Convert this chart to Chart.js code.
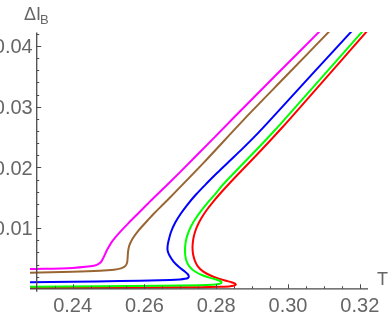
<!DOCTYPE html>
<html>
<head>
<meta charset="utf-8">
<script src="https://cdn.jsdelivr.net/npm/chart.js@4.4.1/dist/chart.umd.min.js"></script>
<style>
  html, body { margin: 0; padding: 0; background: #fff; }
  #caja { width: 388px; height: 319px; }
</style>
</head>
<body>
<div id="caja"><canvas id="grafico"></canvas></div>
<script>
// ticks
const xTicks = [0.24, 0.26, 0.28, 0.30, 0.32];
const yTicks = [0.01, 0.02, 0.03, 0.04];

// curvas: T (eje x) y ΔI_B (eje y)
const tMagenta = [0.22813, 0.24000, 0.24624, 0.24777, 0.24861, 0.24958, 0.25097, 0.25306, 0.25557, 0.25850, 0.26184, 0.26630, 0.27410, 0.28479, 0.29666, 0.30880];
const iMagenta = [0.003245, 0.003443, 0.003822, 0.004316, 0.00514, 0.006375, 0.007776, 0.009258, 0.010823, 0.012553, 0.01453, 0.017084, 0.021696, 0.028121, 0.035205, 0.0424];

const tBrown = [0.22813, 0.24000, 0.24763, 0.25153, 0.25348, 0.25460, 0.25515, 0.25532, 0.25543, 0.25571, 0.25627, 0.25710, 0.25822, 0.25947, 0.26086, 0.26267, 0.26532, 0.26852, 0.27660, 0.28802, 0.29964, 0.31150];
const iBrown = [0.002644, 0.002792, 0.002957, 0.003138, 0.003369, 0.003698, 0.004242, 0.005066, 0.006054, 0.00696, 0.007784, 0.008608, 0.009514, 0.010337, 0.011244, 0.012397, 0.013962, 0.015889, 0.020831, 0.02808, 0.035164, 0.0424];

const tBlue = [0.22813, 0.24000, 0.25320, 0.26435, 0.26992, 0.27131, 0.27215, 0.27237, 0.27203, 0.27117, 0.26964, 0.26811, 0.26699, 0.26646, 0.26646, 0.26671, 0.26741, 0.26852, 0.27006, 0.27201, 0.27437, 0.27716, 0.28022, 0.28357, 0.28719, 0.29109, 0.29546, 0.30641, 0.31770];
const iBlue = [0.001063, 0.001145, 0.001277, 0.001409, 0.00154, 0.001639, 0.001804, 0.002067, 0.00243, 0.002875, 0.003583, 0.004489, 0.005478, 0.006301, 0.007043, 0.007866, 0.009349, 0.010832, 0.012314, 0.013879, 0.015527, 0.017257, 0.019069, 0.020963, 0.023006, 0.025312, 0.02808, 0.035164, 0.0424];

const tGreen = [0.22813, 0.24763, 0.26435, 0.27549, 0.27883, 0.28064, 0.28142, 0.28142, 0.28064, 0.27883, 0.27632, 0.27410, 0.27256, 0.27173, 0.27139, 0.27131, 0.27139, 0.27167, 0.27223, 0.27304, 0.27418, 0.27563, 0.27741, 0.27961, 0.28189, 0.28482, 0.28844, 0.29248, 0.29638, 0.29930, 0.30992, 0.32075];
const iGreen = [0.000338, 0.00042, 0.000486, 0.000585, 0.000667, 0.000783, 0.000947, 0.001161, 0.001409, 0.001722, 0.002183, 0.002842, 0.003665, 0.004572, 0.005478, 0.006384, 0.007207, 0.008196, 0.009267, 0.010337, 0.011491, 0.012726, 0.014044, 0.015527, 0.017174, 0.018986, 0.02121, 0.023681, 0.026152, 0.02808, 0.035164, 0.0424];

const tRed = [0.22813, 0.24763, 0.26992, 0.28106, 0.28357, 0.28482, 0.28538, 0.28524, 0.28440, 0.28273, 0.28050, 0.27827, 0.27632, 0.27493, 0.27404, 0.27354, 0.27340, 0.27347, 0.27372, 0.27423, 0.27499, 0.27606, 0.27746, 0.27919, 0.28135, 0.28391, 0.28682, 0.29045, 0.29440, 0.29825, 0.30067, 0.31120, 0.32195];
const iRed = [0.00014, 0.000189, 0.000239, 0.000321, 0.000387, 0.000486, 0.000634, 0.000848, 0.001046, 0.001326, 0.001722, 0.002232, 0.002875, 0.003665, 0.004654, 0.005725, 0.006713, 0.007537, 0.008525, 0.009596, 0.010667, 0.01182, 0.013056, 0.014374, 0.015856, 0.017504, 0.019316, 0.02154, 0.024011, 0.026482, 0.02808, 0.035164, 0.0424];

const ejeT = 0.23;   // donde cruza el eje vertical
const fuente = '"Liberation Sans Narrow", "Liberation Sans", Arial, sans-serif';

function puntos(ts, is) {
  return ts.map((t, k) => ({ x: t, y: is[k] }));
}

function serie(ts, is, color) {
  return {
    data: puntos(ts, is),
    borderColor: color,
    borderWidth: 2,
    showLine: true,
    fill: false,
    tension: 0.3,
    pointRadius: 0
  };
}

// ejes al estilo Mathematica: ticks hacia dentro
const ejes = {
  id: 'ejes',
  afterDatasetsDraw(chart) {
    const { ctx, chartArea: a, scales: { x, y } } = chart;
    const x0 = x.getPixelForValue(ejeT);
    const y0 = y.getPixelForValue(0);
    const yTop = y.getPixelForValue(0.0422);

    ctx.save();
    ctx.strokeStyle = '#4a4a4a';
    ctx.lineWidth = 1.3;
    ctx.beginPath();
    ctx.moveTo(a.left, y0); ctx.lineTo(a.right, y0);
    ctx.moveTo(x0, y0 + 3); ctx.lineTo(x0, yTop);
    ctx.stroke();

    ctx.lineWidth = 1;
    ctx.beginPath();
    for (let k = 47; k <= 64; k++) {
      const v = k * 0.005;
      const px = Math.round(x.getPixelForValue(v)) + 0.5;
      const largo = xTicks.some(t => Math.abs(t - v) < 1e-9) ? 4.5 : 2.5;
      ctx.moveTo(px, y0); ctx.lineTo(px, y0 - largo);
    }
    for (let k = 1; k <= 21; k++) {
      const v = k * 0.002;
      const py = Math.round(y.getPixelForValue(v)) + 0.5;
      const largo = yTicks.some(t => Math.abs(t - v) < 1e-9) ? 4.5 : 2.5;
      ctx.moveTo(x0, py); ctx.lineTo(x0 + largo, py);
    }
    ctx.stroke();

    ctx.fillStyle = '#666';
    ctx.font = '20px ' + fuente;
    ctx.textAlign = 'center';
    ctx.textBaseline = 'alphabetic';
    xTicks.forEach(t => ctx.fillText(t.toFixed(2), x.getPixelForValue(t), y0 + 23));
    ctx.textAlign = 'right';
    yTicks.forEach(t => ctx.fillText(t.toFixed(2), x0 - 4, y.getPixelForValue(t) + 7.3));

    // titulos de los ejes
    ctx.textAlign = 'left';
    ctx.font = '18px ' + fuente;
    ctx.fillText('T', 377, 285);
    ctx.fillText('ΔI', 24, 19.5);
    ctx.font = '13px ' + fuente;
    ctx.fillText('B', 40, 23.5);
    ctx.restore();
  }
};

new Chart(document.getElementById('grafico'), {
  type: 'scatter',
  data: {
    datasets: [
      serie(tMagenta, iMagenta, '#ff00ff'),
      serie(tBrown, iBrown, 'rgb(153,102,51)'),
      serie(tBlue, iBlue, '#0000ff'),
      serie(tGreen, iGreen, '#00ff00'),
      serie(tRed, iRed, '#ff0000')
    ]
  },
  options: {
    responsive: true,
    maintainAspectRatio: false,
    animation: false,
    layout: { padding: { left: 30, right: 20, top: 32, bottom: 29 } },
    scales: {
      x: { type: 'linear', min: 0.22813, max: 0.32228, display: false },
      y: { type: 'linear', min: -0.0002, max: 0.0423, display: false }
    },
    plugins: { legend: { display: false }, tooltip: { enabled: false } }
  },
  plugins: [ejes]
});
</script>
</body>
</html>
